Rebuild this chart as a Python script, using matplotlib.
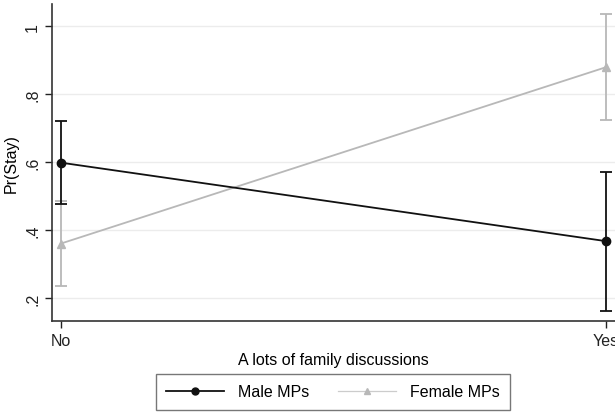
import numpy as np
import matplotlib.pyplot as plt
from matplotlib.lines import Line2D

plt.rcParams['font.family'] = ['Liberation Sans', 'DejaVu Sans']

# data
categories = ["No", "Yes"]
male_pr = [0.598, 0.367]
male_lo = [0.477, 0.162]
male_hi = [0.720, 0.570]
female_pr = [0.360, 0.879]
female_lo = [0.236, 0.724]
female_hi = [0.484, 1.035]

yticks = [0.2, 0.4, 0.6, 0.8, 1.0]
ytick_labels = [".2", ".4", ".6", ".8", "1"]

x = np.arange(len(categories))
male_col = "#111111"
female_col = "#b8b8b8"

fig = plt.figure(figsize=(6.15, 4.14), dpi=100)
ax = fig.add_axes([52 / 615, 1 - 322 / 414, 1 - 52 / 615, 317 / 414])

for y in yticks:
    ax.axhline(y, color="#ececec", lw=1, zorder=0)

ax.errorbar(x, female_pr,
            yerr=[np.array(female_pr) - female_lo, np.array(female_hi) - female_pr],
            color=female_col, marker="^", ms=6, lw=1.3, capsize=4, elinewidth=1.3,
            capthick=1.3, zorder=2)
ax.errorbar(x, male_pr,
            yerr=[np.array(male_pr) - male_lo, np.array(male_hi) - male_pr],
            color=male_col, marker="o", ms=6, lw=1.3, capsize=4, elinewidth=1.3,
            capthick=1.3, zorder=3)

ax.set_xlim(-0.0165, 1.0165)
ax.set_ylim(0.132, 1.065)
ax.set_xticks(x)
ax.set_xticklabels(categories, fontsize=11.5)
ax.set_yticks(yticks)
ax.set_yticklabels(ytick_labels, fontsize=11.5, rotation=90, va="center")
ax.tick_params(colors="#222222", length=5, width=1)
ax.set_ylabel("Pr(Stay)", fontsize=11.5, labelpad=5)
ax.set_xlabel("A lots of family discussions", fontsize=11.5, labelpad=3)

for side in ["top", "right"]:
    ax.spines[side].set_visible(False)
for side in ["left", "bottom"]:
    ax.spines[side].set_color("#333333")
    ax.spines[side].set_linewidth(1.2)

handles = [
    Line2D([], [], color=male_col, marker="o", ms=5, lw=1.3),
    Line2D([], [], color="#cccccc", marker="^", ms=5, mfc=female_col,
           mec=female_col, lw=0.9),
]
leg = fig.legend(handles, ["Male MPs", "Female MPs"], loc="center",
                 bbox_to_anchor=(333 / 615, 1 - 393 / 414), ncol=2,
                 fontsize=11.5, frameon=True, fancybox=False, handlelength=3.6,
                 handletextpad=0.9, columnspacing=1.8, borderpad=0.65)
leg.get_frame().set_edgecolor("#555555")
leg.get_frame().set_linewidth(1.0)

fig.savefig("out.png", dpi=100)
